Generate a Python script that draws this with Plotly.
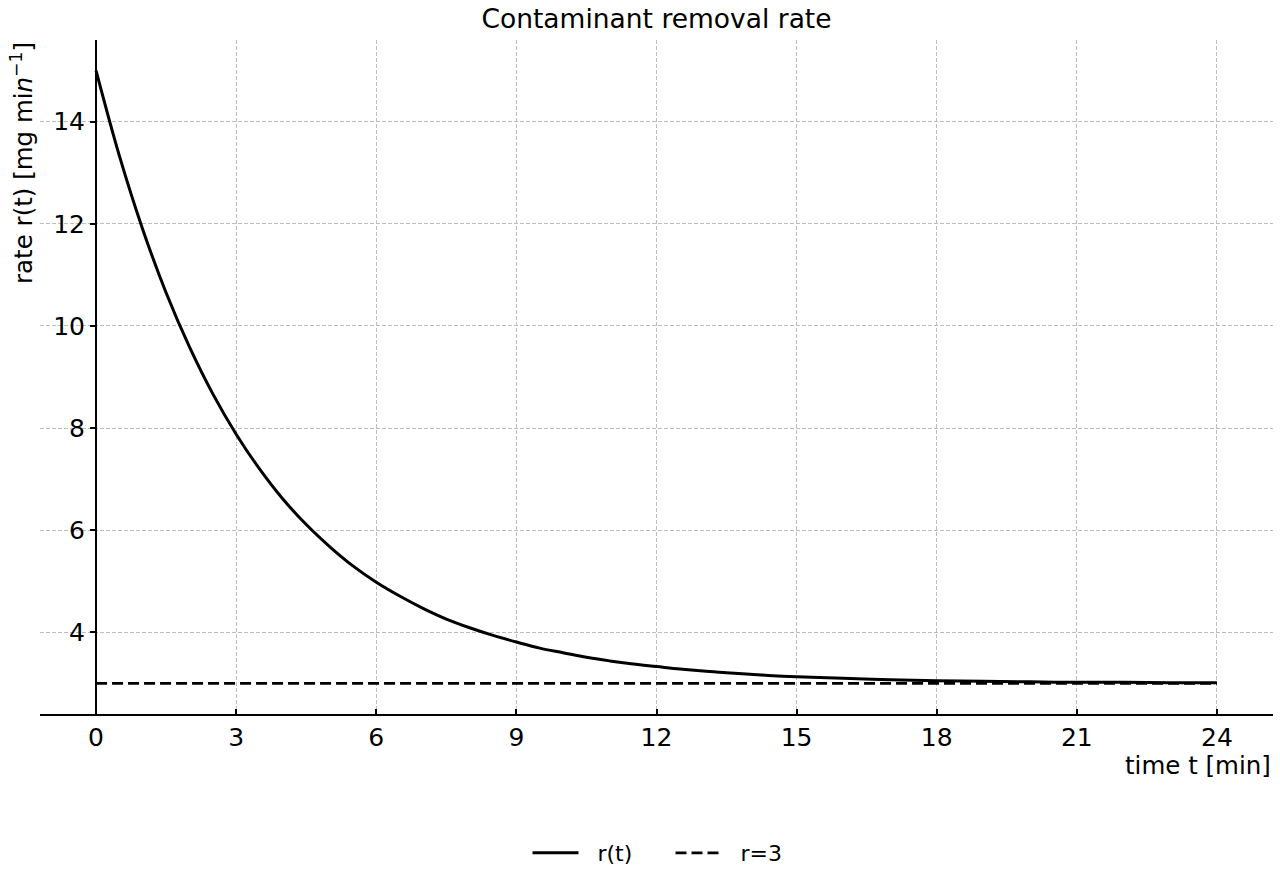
import plotly.graph_objects as go

# Data
t_values = [0, 0.5, 1, 1.5, 2, 2.5, 3, 3.5, 4, 4.5, 5, 5.5, 6, 6.5, 7, 7.5, 8, 8.5,
            9, 9.5, 10, 10.5, 11, 11.5, 12, 12.5, 13, 13.5, 14, 14.5, 15, 16, 17,
            18, 19, 20, 21, 22, 23, 24]
r_values = [15.00, 13.33, 11.89, 10.65, 9.59, 8.67, 7.88, 7.20, 6.61, 6.11, 5.68,
            5.30, 4.98, 4.71, 4.47, 4.26, 4.09, 3.94, 3.81, 3.69, 3.60, 3.51, 3.44,
            3.38, 3.33, 3.28, 3.24, 3.21, 3.18, 3.15, 3.13, 3.10, 3.07, 3.05, 3.04,
            3.03, 3.02, 3.02, 3.01, 3.01]
ref_t = [0, 24]
ref_r = [3, 3]
series_names = ["r(t)", "r=3"]
x_ticks = [0, 3, 6, 9, 12, 15, 18, 21, 24]
y_ticks = [4, 6, 8, 10, 12, 14]

FONT = "DejaVu Sans"
PAD = "\u00a0\u00a0"

fig = go.Figure()
fig.add_trace(go.Scatter(x=t_values, y=r_values, mode="lines", name=PAD + series_names[0],
                         line=dict(color="black", width=3, shape="spline")))
fig.add_trace(go.Scatter(x=ref_t, y=ref_r, mode="lines", name=PAD + series_names[1],
                         line=dict(color="black", width=2.8, dash="11px,5px")))

L, R, T, B = 40, 7, 40, 165
W, H = 1280, 880
pw = W - L - R
ph = H - T - B

grid = dict(showgrid=True, gridcolor="#bdbdbd", gridwidth=1, griddash="4px,2px")

fig.update_layout(
    width=W, height=H,
    margin=dict(l=L, r=R, t=T, b=B),
    plot_bgcolor="white", paper_bgcolor="white",
    font=dict(family=FONT, color="black", size=24),
    title=dict(text="Contaminant removal rate", x=(L + pw / 2) / W,
               xanchor="center", y=1 - 19 / H, yanchor="middle",
               font=dict(size=26.5, family=FONT, color="black")),
    showlegend=True,
    legend=dict(orientation="h", x=0.5 + 14 / pw, xanchor="center", y=(715 - 853) / ph,
                yanchor="middle",
                font=dict(size=22, family=FONT, color="black"), itemwidth=46,
                entrywidth=82, entrywidthmode="pixels",
                bgcolor="rgba(0,0,0,0)"),
    xaxis=dict(range=[-1.2, 25.2], tickvals=x_ticks, ticktext=[str(v) for v in x_ticks],
               showline=True, linecolor="black", linewidth=2,
               ticks="inside", ticklen=5, tickwidth=2, tickcolor="black",
               zeroline=False, tickfont=dict(size=25, family=FONT, color="black"), **grid),
    yaxis=dict(range=[2.4, 15.6], tickvals=y_ticks, ticktext=[str(v) for v in y_ticks],
               anchor="free", position=(96 - L) / pw,
               showline=True, linecolor="black", linewidth=2,
               ticks="outside", ticklen=5, tickwidth=2, tickcolor="black",
               zeroline=False, tickfont=dict(size=25, family=FONT, color="black"), **grid),
)

fig.add_annotation(text="rate r(t) [mg mi<i>n</i><sup>−1</sup>]", xref="paper", yref="paper",
                   x=(22 - L) / pw, y=1, xanchor="center", yanchor="top", textangle=-90,
                   showarrow=False, font=dict(size=24.5, family=FONT, color="black"))
fig.add_annotation(text="time t [min]", xref="paper", yref="paper",
                   x=1, y=(715 - 767) / ph, xanchor="right", yanchor="middle",
                   showarrow=False, font=dict(size=24.5, family=FONT, color="black"))

fig.write_html("out.html")
